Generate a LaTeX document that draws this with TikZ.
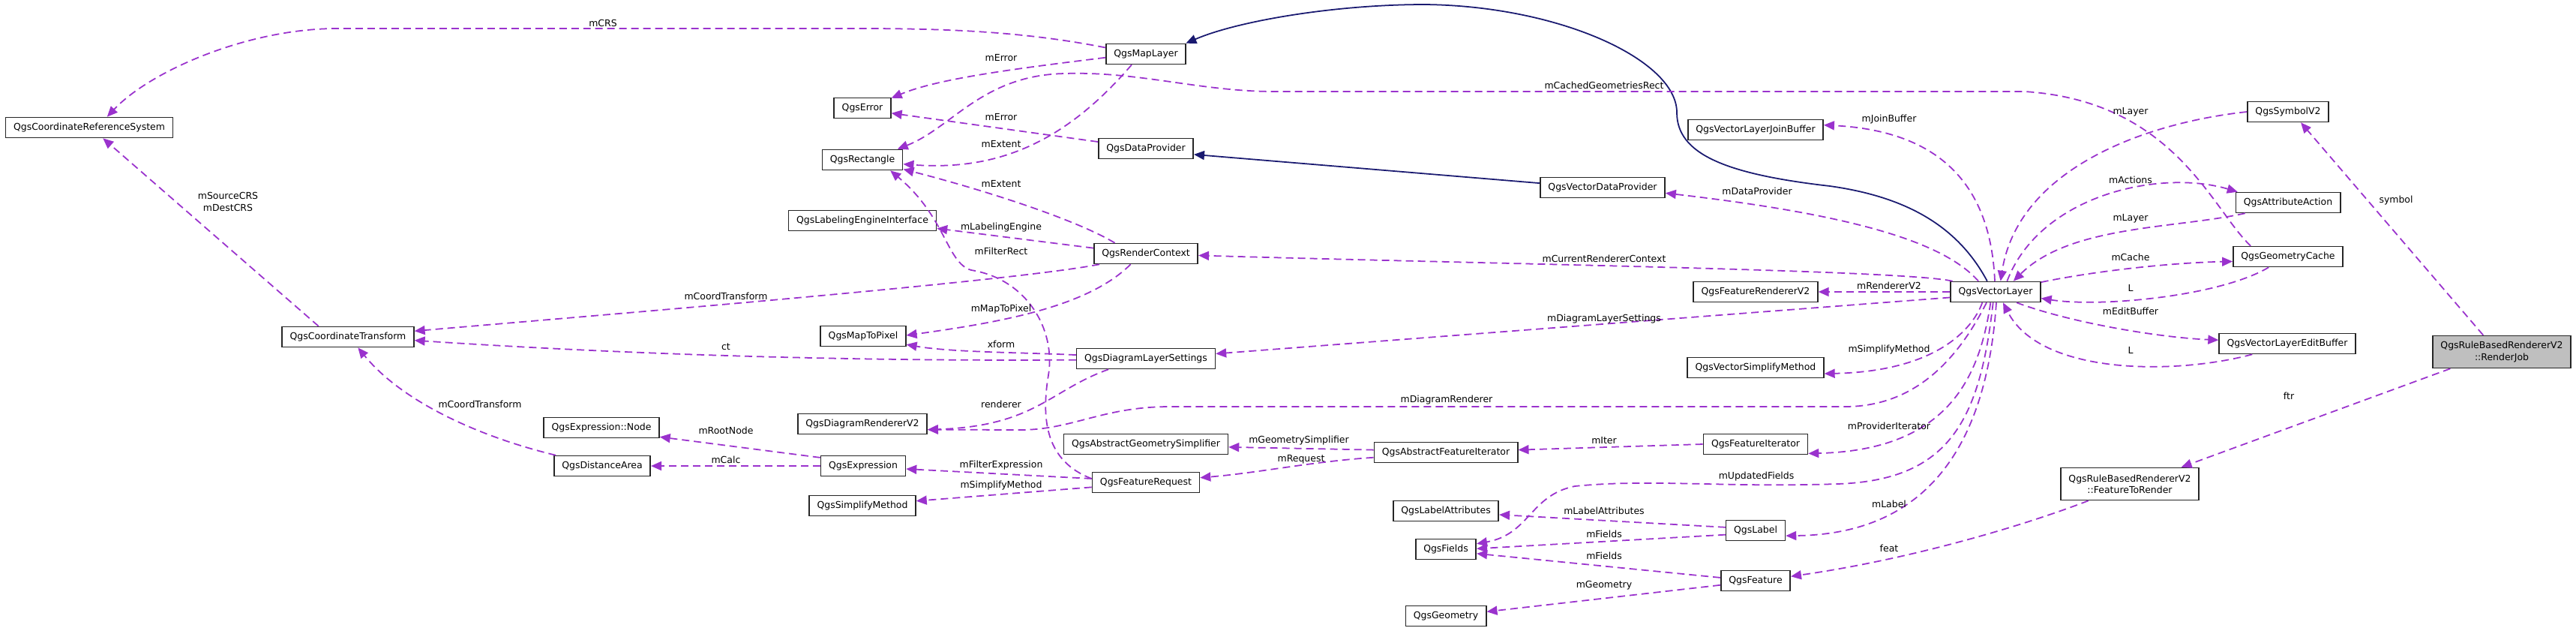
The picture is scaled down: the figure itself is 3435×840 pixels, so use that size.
\documentclass[tikz,border=0pt]{standalone}
\usepackage{fontspec}
\setmainfont{DejaVu Sans}
\usetikzlibrary{arrows.meta}
\definecolor{memberpurple}{HTML}{9A32CD}
\definecolor{basenavy}{HTML}{191970}
\definecolor{rootgray}{HTML}{BFBFBF}

\begin{document}
\begin{tikzpicture}[x=0.02cm,y=-0.02cm,
  cls/.style={draw=black!85,line width=0.9pt,rectangle,inner xsep=0.21cm,inner ysep=0pt,
    minimum height=0.54cm,font=\fontsize{7.1}{8.6}\selectfont},
  cls2/.style={cls,align=center,minimum height=0.86cm},
  lbl/.style={inner sep=0pt,font=\fontsize{7.1}{8.6}\selectfont},
  mem/.style={draw=memberpurple,line width=1pt,dash pattern=on 0.2cm off 0.12cm,
    -{Triangle[length=0.28cm,width=0.24cm]}},
  inh/.style={draw=basenavy,line width=1pt,-{Triangle[length=0.28cm,width=0.24cm]}}]
  \fill[white] (0,0) rectangle (3435,840);
  \useasboundingbox (0,0) rectangle (3435,840);
  % Classes
  \node[cls] (crs) at (119,170) {QgsCoordinateReferenceSystem};
  \node[cls] (ctr) at (464,449) {QgsCoordinateTransform};
  \node[cls] (exnode) at (802,570) {QgsExpression::Node};
  \node[cls] (dist) at (803,621) {QgsDistanceArea};
  \node[cls] (maplayer) at (1528,72) {QgsMapLayer};
  \node[cls] (err) at (1150,144) {QgsError};
  \node[cls] (rect) at (1150,213) {QgsRectangle};
  \node[cls] (dprov) at (1528,198) {QgsDataProvider};
  \node[cls] (leng) at (1150,294) {QgsLabelingEngineInterface};
  \node[cls] (rctx) at (1528,338) {QgsRenderContext};
  \node[cls] (m2p) at (1151,448) {QgsMapToPixel};
  \node[cls] (dls) at (1528,478) {QgsDiagramLayerSettings};
  \node[cls] (drend) at (1150,565) {QgsDiagramRendererV2};
  \node[cls] (ags) at (1528,592) {QgsAbstractGeometrySimplifier};
  \node[cls] (expr) at (1151,621) {QgsExpression};
  \node[cls] (freq) at (1528,643) {QgsFeatureRequest};
  \node[cls] (smeth) at (1150,674) {QgsSimplifyMethod};
  \node[cls] (vljb) at (2341,173) {QgsVectorLayerJoinBuffer};
  \node[cls] (vdp) at (2137,250) {QgsVectorDataProvider};
  \node[cls] (frend) at (2341,389) {QgsFeatureRendererV2};
  \node[cls] (vl) at (2661,389) {QgsVectorLayer};
  \node[cls] (vsm) at (2341,490) {QgsVectorSimplifyMethod};
  \node[cls] (afi) at (1928,603) {QgsAbstractFeatureIterator};
  \node[cls] (fit) at (2341,592) {QgsFeatureIterator};
  \node[cls] (lattr) at (1928,681) {QgsLabelAttributes};
  \node[cls] (qlabel) at (2341,707) {QgsLabel};
  \node[cls] (fields) at (1928,732) {QgsFields};
  \node[cls] (feature) at (2341,774) {QgsFeature};
  \node[cls] (geom) at (1928,821) {QgsGeometry};
  \node[cls] (sym) at (3051,149) {QgsSymbolV2};
  \node[cls] (aact) at (3051,270) {QgsAttributeAction};
  \node[cls] (gcache) at (3051,342) {QgsGeometryCache};
  \node[cls] (vleb) at (3050,458) {QgsVectorLayerEditBuffer};
  \node[cls2,fill=rootgray] (rjob) at (3336,469) {QgsRuleBasedRendererV2\\::RenderJob};
  \node[cls2] (ftr) at (2840,645) {QgsRuleBasedRendererV2\\::FeatureToRender};
  % Inheritance
  \draw[inh] (vl.128) .. controls (2610,300) and (2540,262) .. (2440,248)
    .. controls (2300,232) and (2236,205) .. (2236,150)
    .. controls (2236,80) and (2080,8) .. (1900,6)
    .. controls (1780,6) and (1650,28) .. (maplayer.15);
  \draw[inh] (vdp.176) -- (dprov.353);
  % Members, left part
  \draw[mem] (maplayer.171) .. controls (1330,35) and (1200,38) .. (1050,38) -- (450,38)
    .. controls (330,38) and (200,95) .. (crs.31);
  \draw[mem] (ctr.160) -- (crs.322);
  \draw[mem] (maplayer.185) .. controls (1350,92) and (1250,105) .. (err.19);
  \draw[mem] (dprov.172) -- (err.350);
  \draw[mem] (maplayer.217) .. controls (1420,190) and (1330,228) .. (rect.354);
  \draw[mem] (rctx.161) .. controls (1430,290) and (1300,250) .. (rect.347);
  \draw[mem] (freq.176) .. controls (1395,615) and (1388,560) .. (1398,500)
    .. controls (1408,440) and (1370,372) .. (1295,360)
    .. controls (1262,350) and (1262,290) .. (rect.339);
  \draw[mem] (gcache.164) .. controls (2950,280) and (2900,135) .. (2700,122) -- (1700,122)
    .. controls (1600,122) and (1520,95) .. (1420,98)
    .. controls (1310,100) and (1270,170) .. (rect.17);
  \draw[mem] (rctx.174) -- (leng.354);
  \draw[mem] (rctx.193) .. controls (1350,375) and (800,420) .. (ctr.5);
  \draw[mem] (rctx.215) .. controls (1450,410) and (1330,430) .. (m2p.1);
  \draw[mem] (dls.177) .. controls (1380,470) and (1270,470) .. (m2p.349);
  \draw[mem] (dls.181) .. controls (1100,482) and (800,470) .. (ctr.357);
  \draw[mem] (dls.196) .. controls (1400,520) and (1380,568) .. (drend.355);
  \draw[mem] (expr.169) -- (exnode.351);
  \draw[mem] (expr.west) -- (dist.east);
  \draw[mem] (dist.167) .. controls (650,585) and (540,540) .. (ctr.313);
  \draw[mem] (freq.176) -- (expr.356);
  \draw[mem] (freq.185) -- (smeth.5);
  \draw[mem] (afi.178) -- (ags.358);
  \draw[mem] (afi.184) .. controls (1750,615) and (1680,630) .. (freq.5);
  \draw[mem] (fit.west) -- (afi.2);
  \draw[mem] (qlabel.174) -- (lattr.356);
  \draw[mem] (qlabel.188) -- (fields.1);
  \draw[mem] (feature.175) -- (fields.352);
  \draw[mem] (feature.187) -- (geom.6);
  % Members of QgsVectorLayer
  \draw[mem] (vl.148) .. controls (2590,320) and (2460,285) .. (vdp.355);
  \draw[mem] (vl.west) -- (frend.east);
  \draw[mem] (vl.166) .. controls (2540,360) and (2000,352) .. (rctx.358);
  \draw[mem] (vl.187) -- (dls.4);
  \draw[mem] (vl.94) .. controls (2655,260) and (2600,175) .. (vljb.4);
  \draw[mem] (vl.230) .. controls (2615,470) and (2560,542) .. (2460,542) -- (1560,542)
    .. controls (1470,542) and (1430,573) .. (1360,573) -- (drend.355);
  \draw[mem] (vl.219) .. controls (2630,440) and (2580,495) .. (vsm.355);
  \draw[mem] (vl.245) .. controls (2640,500) and (2600,600) .. (fit.350);
  \draw[mem] (vl.257) .. controls (2640,560) and (2600,640) .. (2450,645)
    .. controls (2300,650) and (2200,638) .. (2100,648)
    .. controls (2040,660) and (2040,712) .. (fields.10);
  \draw[mem] (vl.274) .. controls (2650,580) and (2580,712) .. (qlabel.350);
  \draw[mem] (vl.43) .. controls (2720,260) and (2880,225) .. (aact.168);
  \draw[mem] (vl.12) .. controls (2800,360) and (2900,350) .. (gcache.185);
  \draw[mem] (vl.333) .. controls (2760,430) and (2880,450) .. (vleb.177);
  % Back to QgsVectorLayer
  \draw[mem] (sym.west) .. controls (2850,165) and (2690,230) .. (vl.65);
  \draw[mem] (aact.194) .. controls (2900,305) and (2760,300) .. (vl.31);
  \draw[mem] (gcache.209) .. controls (2960,395) and (2800,410) .. (vl.352);
  \draw[mem] (vleb.197) .. controls (2900,500) and (2720,500) .. (vl.305);
  % Render job
  \draw[mem] (ftr.202) .. controls (2700,700) and (2550,745) .. (feature.7);
  \draw[mem] (rjob.198) -- (ftr.18);
  \draw[mem] (rjob.138) -- (sym.320);
  % Labels
  \node[lbl] (lcrs) at (804,31) {mCRS};
  \node[lbl,align=center] (lsrc) at (304,269) {mSourceCRS\\mDestCRS};
  \node[lbl] (lerr1) at (1335,77) {mError};
  \node[lbl] (lerr2) at (1335,156) {mError};
  \node[lbl] (lext1) at (1335,192) {mExtent};
  \node[lbl] (lext2) at (1335,245) {mExtent};
  \node[lbl] (lleng) at (1335,303) {mLabelingEngine};
  \node[lbl] (lfrect) at (1335,335) {mFilterRect};
  \node[lbl] (lct1) at (968,395) {mCoordTransform};
  \node[lbl] (lm2p) at (1335,412) {mMapToPixel};
  \node[lbl] (lct) at (968,462) {ct};
  \node[lbl] (lxform) at (1335,459) {xform};
  \node[lbl] (lrend) at (1335,539) {renderer};
  \node[lbl] (lroot) at (968,574) {mRootNode};
  \node[lbl] (lcalc) at (968,613) {mCalc};
  \node[lbl] (lct2) at (640,539) {mCoordTransform};
  \node[lbl] (lfexpr) at (1335,620) {mFilterExpression};
  \node[lbl] (lsm1) at (1335,647) {mSimplifyMethod};
  \node[lbl] (lgsimp) at (1732,587) {mGeometrySimplifier};
  \node[lbl] (lreq) at (1735,612) {mRequest};
  \node[lbl] (lcgr) at (2139,114) {mCachedGeometriesRect};
  \node[lbl] (ljb) at (2519,159) {mJoinBuffer};
  \node[lbl] (ldp) at (2343,255) {mDataProvider};
  \node[lbl] (lcrc) at (2139,345) {mCurrentRendererContext};
  \node[lbl] (lrv2) at (2519,381) {mRendererV2};
  \node[lbl] (ldls) at (2139,425) {mDiagramLayerSettings};
  \node[lbl] (lsm2) at (2519,466) {mSimplifyMethod};
  \node[lbl] (ldr) at (1929,533) {mDiagramRenderer};
  \node[lbl] (liter) at (2139,587) {mIter};
  \node[lbl] (lpi) at (2519,568) {mProviderIterator};
  \node[lbl] (luf) at (2342,635) {mUpdatedFields};
  \node[lbl] (lla) at (2139,681) {mLabelAttributes};
  \node[lbl] (llabel) at (2519,672) {mLabel};
  \node[lbl] (lf1) at (2139,712) {mFields};
  \node[lbl] (lf2) at (2139,741) {mFields};
  \node[lbl] (lfeat) at (2519,731) {feat};
  \node[lbl] (lgeom) at (2139,780) {mGeometry};
  \node[lbl] (llay1) at (2841,149) {mLayer};
  \node[lbl] (lact) at (2841,240) {mActions};
  \node[lbl] (llay2) at (2841,291) {mLayer};
  \node[lbl] (lcache) at (2841,343) {mCache};
  \node[lbl] (ll1) at (2841,384) {L};
  \node[lbl] (leb) at (2841,415) {mEditBuffer};
  \node[lbl] (ll2) at (2841,467) {L};
  \node[lbl] (lsym) at (3195,267) {symbol};
  \node[lbl] (lftr) at (3052,528) {ftr};
\end{tikzpicture}
\end{document}
